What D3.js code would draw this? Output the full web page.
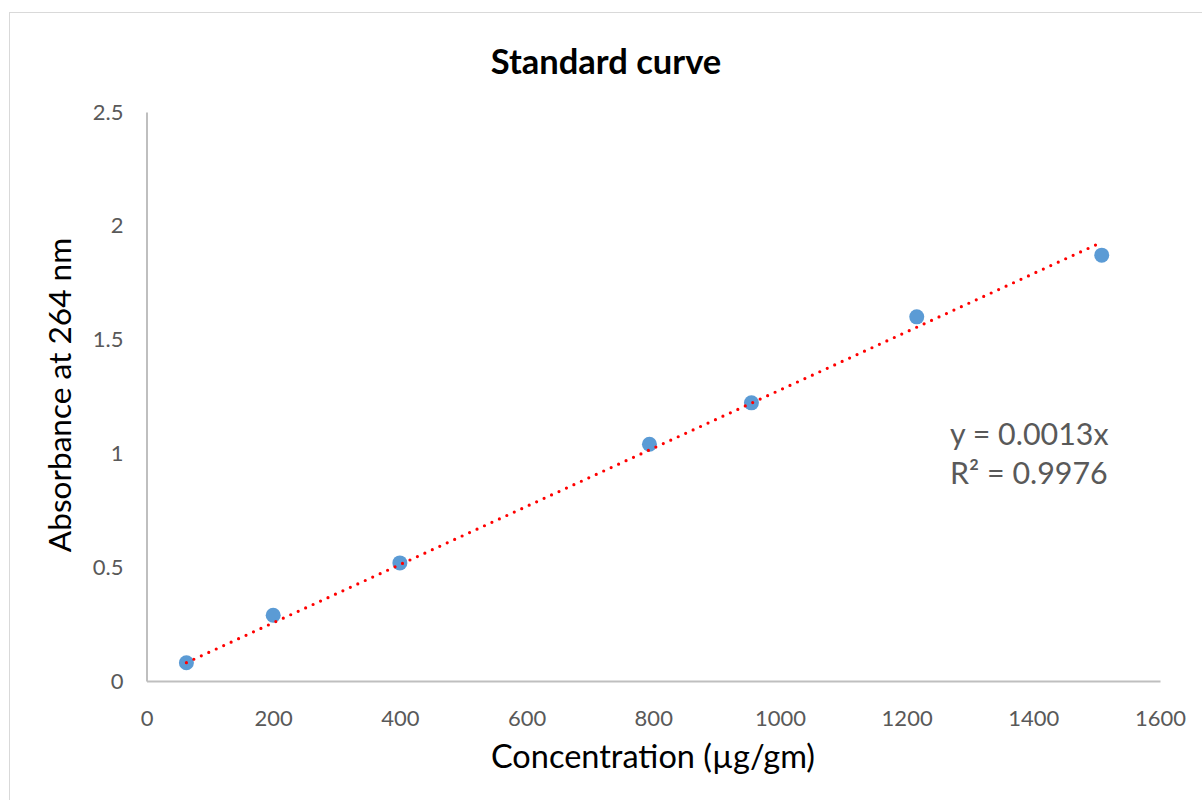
<!DOCTYPE html>
<html>
<head>
<meta charset="utf-8">
<script src="https://cdn.jsdelivr.net/npm/d3@7"></script>
<style>
  body { margin: 0; background: #fff; }
  svg { display: block; }
</style>
</head>
<body>
<div id="chart"></div>
<script>
// data
var concentration = [63, 200, 400, 794, 955, 1216, 1508];
var absorbance = [0.080, 0.289, 0.519, 1.040, 1.222, 1.600, 1.871];
var xTicks = [0, 200, 400, 600, 800, 1000, 1200, 1400, 1600];
var yTicks = [0, 0.5, 1, 1.5, 2, 2.5];
var equationLines = ["y = 0.0013x", "R\u00B2 = 0.9976"];

var width = 1202, height = 800;
var margin = {top: 112, right: 42, bottom: 119, left: 146.5};
var font = "Lato, 'Open Sans', sans-serif";

var svg = d3.select("#chart").append("svg")
  .attr("width", width)
  .attr("height", height);

// chart frame
svg.append("rect")
  .attr("x", 9.5).attr("y", 12.5)
  .attr("width", width).attr("height", height)
  .attr("fill", "none")
  .attr("stroke", "#d9d9d9")
  .attr("stroke-width", 1);

var x = d3.scaleLinear().domain([0, 1600]).range([margin.left, width - margin.right]);
var y = d3.scaleLinear().domain([0, 2.5]).range([height - margin.bottom, margin.top]);

var data = concentration.map(function (c, i) { return {x: c, y: absorbance[i]}; });

// axes, no tick marks
svg.append("g")
  .attr("transform", "translate(0," + y(0) + ")")
  .call(d3.axisBottom(x).tickValues(xTicks).tickSize(0).tickPadding(29).tickFormat(d3.format("d")))
  .call(function (g) {
    g.select(".domain").attr("stroke", "#bfbfbf").attr("stroke-width", 2);
    g.selectAll("text").attr("fill", "#595959").style("font-size", "22px").style("font-family", font);
  });

svg.append("g")
  .attr("transform", "translate(" + x(0) + ",0)")
  .call(d3.axisLeft(y).tickValues(yTicks).tickSize(0).tickPadding(23).tickFormat(function (d) { return String(d); }))
  .call(function (g) {
    g.select(".domain").attr("stroke", "#bfbfbf").attr("stroke-width", 2);
    g.selectAll("text").attr("fill", "#595959").style("font-size", "22px").style("font-family", font);
  });

// linear fit through the origin
var slope = d3.sum(data, function (d) { return d.x * d.y; }) / d3.sum(data, function (d) { return d.x * d.x; });
var xExt = d3.extent(concentration);

function fitLine() {
  svg.append("line")
    .attr("x1", x(xExt[0])).attr("y1", y(slope * xExt[0]))
    .attr("x2", x(xExt[1])).attr("y2", y(slope * xExt[1]))
    .attr("stroke", "#ff0000")
    .attr("stroke-width", 3.2)
    .attr("stroke-linecap", "round")
    .attr("stroke-dasharray", "0 8.2");
}

svg.selectAll("circle.pt")
  .data(data)
  .enter().append("circle")
  .attr("class", "pt")
  .attr("cx", function (d) { return x(d.x); })
  .attr("cy", function (d) { return y(d.y); })
  .attr("r", 7.5)
  .attr("fill", "#5b9bd5");

// dots sit on top of the markers
fitLine();

svg.append("text")
  .attr("x", 606).attr("y", 74)
  .attr("text-anchor", "middle")
  .attr("font-family", font)
  .attr("font-weight", "bold")
  .attr("font-size", "34.5px")
  .attr("fill", "#000")
  .text("Standard curve");

svg.append("text")
  .attr("x", 653).attr("y", 768)
  .attr("text-anchor", "middle")
  .attr("font-family", font)
  .attr("font-size", "32.5px")
  .attr("fill", "#000")
  .text("Concentration (\u00B5g/gm)");

svg.append("text")
  .attr("transform", "translate(71,395) rotate(-90)")
  .attr("text-anchor", "middle")
  .attr("font-family", font)
  .attr("font-size", "31.6px")
  .attr("fill", "#000")
  .text("Absorbance at 264 nm");

svg.selectAll("text.eq")
  .data(equationLines)
  .enter().append("text")
  .attr("class", "eq")
  .attr("x", 950)
  .attr("y", function (d, i) { return 445 + i * 39; })
  .attr("font-family", font)
  .attr("font-size", "30.4px")
  .attr("fill", "#595959")
  .text(function (d) { return d; });
</script>
</body>
</html>
